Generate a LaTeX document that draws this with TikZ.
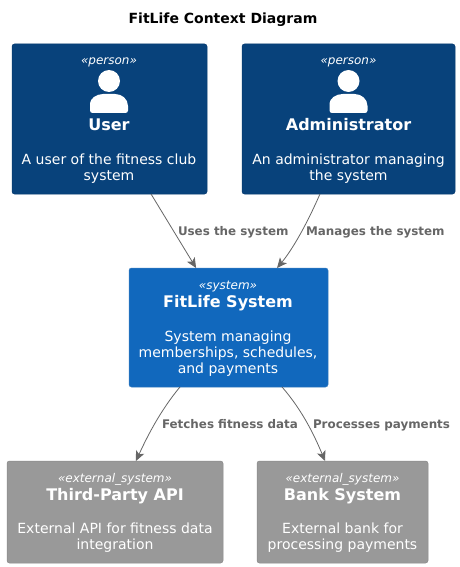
\documentclass[tikz,border=0pt]{standalone}
\usepackage{fontspec}
\setmainfont{DejaVu Sans}
\usetikzlibrary{calc,arrows.meta}
\definecolor{personfill}{HTML}{08427B}
\definecolor{personline}{HTML}{073B6F}
\definecolor{sysfill}{HTML}{1168BD}
\definecolor{sysline}{HTML}{3C7FC0}
\definecolor{extfill}{HTML}{999999}
\definecolor{extline}{HTML}{8A8A8A}
\definecolor{linkcol}{HTML}{666666}
\newcommand{\fsz}[1]{\fontsize{#1}{#1}\selectfont}
\tikzset{
  x=1pt,y=-1pt,
  boxbase/.style={rectangle,rounded corners=2.5pt,line width=0.5pt,anchor=north west,inner sep=0,outer sep=0},
  personbox/.style={boxbase,fill=personfill,draw=personline},
  sysbox/.style={boxbase,fill=sysfill,draw=sysline},
  extbox/.style={boxbase,fill=extfill,draw=extline},
  txt/.style={anchor=base,inner sep=0,outer sep=0,text=white},
  stereo/.style={txt,font=\fsz{12}\itshape},
  ttl/.style={txt,font=\fsz{16}\bfseries},
  desc/.style={txt,font=\fsz{14}},
  rel/.style={draw=linkcol,line width=0.8pt,-{Stealth[length=10pt,width=9pt,inset=2.5pt]}},
  rellabel/.style={anchor=base west,inner sep=0,outer sep=0,text=linkcol,font=\fsz{11.9}\bfseries},
  icon/.style={fill=white,draw=none}
}
\begin{document}
\begin{tikzpicture}
\useasboundingbox (0,0) rectangle (459,567);
\fill[white] (0,0) rectangle (459,567);
\node[anchor=base,inner sep=0,font=\fsz{14}\bfseries,text=black] (title) at (223,23.7) {FitLife Context Diagram};

\node[personbox,minimum width=195pt,minimum height=150pt] (user) at (12,44) {};
\node[personbox,minimum width=213pt,minimum height=150pt] (admin) at (242,44) {};
\node[sysbox,minimum width=199pt,minimum height=119pt] (fitlife) at (129,268) {};
\node[extbox,minimum width=216pt,minimum height=102pt] (api) at (7,461) {};
\node[extbox,minimum width=171pt,minimum height=102pt] (bank) at (257,461) {};

% person icons
\foreach \cx in {109,348.5}{
  \fill[icon] (\cx,81) circle (11);
  \fill[icon] (\cx-19,113) [rounded corners=2.5pt] -- (\cx-19,106) [rounded corners=0pt]
     .. controls (\cx-19,99) and (\cx-13,94) .. (\cx-6,94) -- (\cx+6,94)
     .. controls (\cx+13,94) and (\cx+19,99) .. (\cx+19,106) [rounded corners=2.5pt] -- (\cx+19,113) -- cycle;
}

\node[stereo] (userst) at (109,65) {«person»};
\node[ttl] (userttl) at (109,131) {User};
\node[desc] (userd1) at (109,164) {A user of the fitness club};
\node[desc] (userd2) at (109,180) {system};

\node[stereo] (adminst) at (348.5,65) {«person»};
\node[ttl] (adminttl) at (348.5,131) {Administrator};
\node[desc] (admind1) at (348.5,164) {An administrator managing};
\node[desc] (admind2) at (348.5,180) {the system};

\node[stereo] (fitst) at (228,289) {«system»};
\node[ttl] (fitttl) at (228,307) {FitLife System};
\node[desc] (fitd1) at (228,341) {System managing};
\node[desc] (fitd2) at (228,357) {memberships, schedules,};
\node[desc] (fitd3) at (228,373) {and payments};

\node[stereo] (apist) at (115,482) {«external\_system»};
\node[ttl] (apittl) at (115,500.3) {Third-Party API};
\node[desc] (apid1) at (115,533) {External API for fitness data};
\node[desc] (apid2) at (115,549) {integration};

\node[stereo] (bankst) at (342.5,482) {«external\_system»};
\node[ttl] (bankttl) at (342.5,500.3) {Bank System};
\node[desc] (bankd1) at (342.5,533) {External bank for};
\node[desc] (bankd2) at (342.5,549) {processing payments};

\draw[rel] ($(user.south west)!0.713!(user.south east)$) -- ($(fitlife.north west)!0.337!(fitlife.north east)$);
\draw[rel] ($(admin.south west)!0.366!(admin.south east)$) .. controls (306,226) and (292,250) .. ($(fitlife.north west)!0.744!(fitlife.north east)$);
\draw[rel] ($(fitlife.south west)!0.256!(fitlife.south east)$) .. controls (160,411) and (147,437) .. ($(api.north west)!0.597!(api.north east)$);
\draw[rel] ($(fitlife.south west)!0.769!(fitlife.south east)$) .. controls (303,411) and (315,437) .. ($(bank.north west)!0.398!(bank.north east)$);

\node[rellabel] (l1) at (178,235) {Uses the system};
\node[rellabel] (l2) at (306,235) {Manages the system};
\node[rellabel] (l3) at (162,428) {Fetches fitness data};
\node[rellabel] (l4) at (313,428) {Processes payments};
\end{tikzpicture}
\end{document}
